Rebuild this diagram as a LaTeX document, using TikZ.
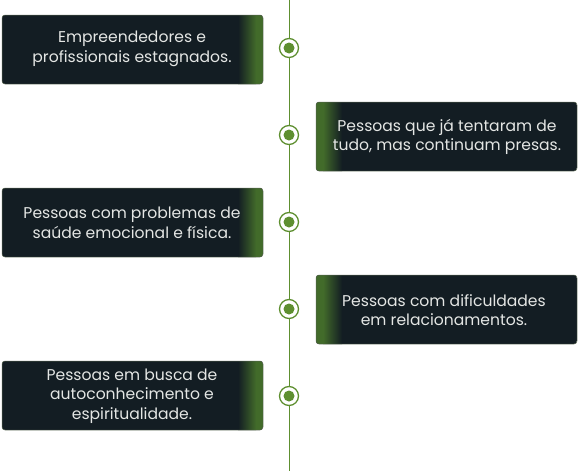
\documentclass[tikz,border=0pt]{standalone}
\usepackage{fontspec}
\setmainfont{Poppins}
\definecolor{boxdark}{HTML}{131D23}
\definecolor{boxgreen}{HTML}{426B2A}
\definecolor{lineg}{HTML}{5E8F30}
\definecolor{txt}{HTML}{E4E6E4}
\definecolor{edge}{HTML}{55624F}
\begin{document}
\begin{tikzpicture}[x=1pt,y=-1pt,
  label/.style={text=txt,font=\fontsize{15.6}{19.5}\selectfont,align=center,inner sep=0pt},
  ring/.style={circle,draw=lineg,line width=1.3pt,fill=white,minimum size=19pt,inner sep=0pt},
  dot/.style={circle,fill=lineg,minimum size=11pt,inner sep=0pt}]
\useasboundingbox (0,0) rectangle (578,471);
\draw[lineg,line width=1pt] (289,0) coordinate (top) -- (289,471) coordinate (bot);
% left cards
\foreach \y/\h [count=\i] in {15/69,188/69,361/69}{
  \begin{scope}
    \clip[rounded corners=3pt] (2,\y) rectangle (263,\y+\h);
    \fill[boxdark] (2,\y) rectangle (263,\y+\h);
    \shade[left color=boxdark,right color=boxgreen] (238,\y) rectangle (256,\y+\h);
    \fill[boxgreen] (256,\y) rectangle (263,\y+\h);
  \end{scope}
  \draw[edge,line width=0.5pt,rounded corners=3pt] (2,\y) rectangle (263,\y+\h);
}
% right cards
\foreach \y/\h in {102/69,275/69}{
  \begin{scope}
    \clip[rounded corners=3pt] (316,\y) rectangle (577,\y+\h);
    \fill[boxdark] (316,\y) rectangle (577,\y+\h);
    \shade[left color=boxgreen,right color=boxdark] (323,\y) rectangle (342,\y+\h);
    \fill[boxgreen] (316,\y) rectangle (323,\y+\h);
  \end{scope}
  \draw[edge,line width=0.5pt,rounded corners=3pt] (316,\y) rectangle (577,\y+\h);
}
\node[label] (t1) at (132,49) {Empreendedores e\\profissionais estagnados.};
\node[label] (t2) at (447,137) {Pessoas que já tentaram de\\tudo, mas continuam presas.};
\node[label] (t3) at (132,223) {Pessoas com problemas de\\saúde emocional e física.};
\node[label] (t4) at (444,310) {Pessoas com dificuldades\\em relacionamentos.};
\node[label] (t5) at (132,396) {Pessoas em busca de\\autoconhecimento e\\espiritualidade.};
\foreach \y [count=\i] in {48,135,222,309,396}{
  \node[ring] (r\i) at (289,\y) {};
  \node[dot] (d\i) at (289,\y) {};
}
\end{tikzpicture}
\end{document}
